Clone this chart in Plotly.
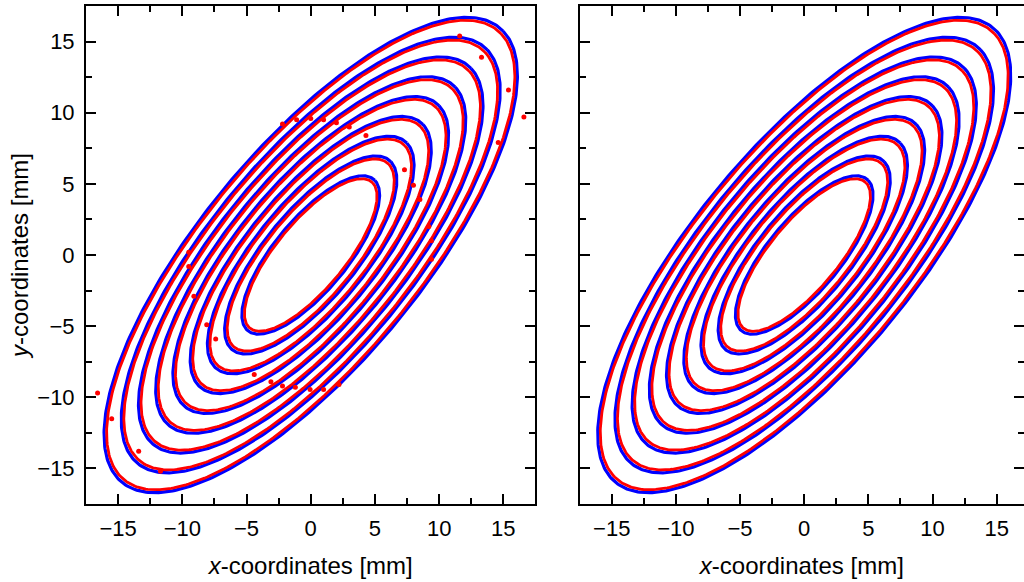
import numpy as np
import plotly.graph_objects as go

# ---- data ----
# nine concentric tilted ellipses: semi-axes in mm, tilt in degrees
blue_semi_major = [7.24, 9.05, 10.86, 12.67, 14.49, 16.30, 18.11, 19.92, 21.73]
blue_semi_minor = [2.70, 3.38, 4.06, 4.73, 5.41, 6.08, 6.76, 7.43, 8.11]
red_semi_major = [7.00, 8.81, 10.62, 12.43, 14.25, 16.06, 17.87, 19.68, 21.49]
red_semi_minor = [2.53, 3.21, 3.89, 4.56, 5.24, 5.91, 6.59, 7.26, 7.94]
tilt_deg = 46.4

# stray measured points (left panel only)
stray_x = [-2.2, -1.1, 0.0, 1.0, 2.0, 3.0, 4.3, 7.3, 8.0, 8.5, 9.2, 9.4, 9.4,
           16.6, 15.4, 13.3, 11.6, 14.6,
           -16.6, -15.5, -13.4, -11.7, -9.5, -9.5, -9.1, -8.1, -7.4,
           -4.4, -3.1, -2.2, -1.2, -0.05, 1.0, 2.2]
stray_y = [9.2, 9.5, 9.6, 9.5, 9.3, 9.0, 8.4, 6.0, 4.9, 3.9, 2.0, 1.0, -0.3,
           9.7, 11.6, 13.9, 15.4, 7.9,
           -9.7, -11.5, -13.8, -15.2, 0.2, -0.8, -2.9, -4.9, -5.9,
           -8.4, -8.9, -9.2, -9.3, -9.45, -9.45, -9.1]

tick_vals = [-15, -10, -5, 0, 5, 10, 15]
tick_text = ["\u221215", "\u221210", "\u22125", "0", "5", "10", "15"]

BLUE = "#0000ff"
RED = "#ff0000"
FONT = "Liberation Sans, Arial, sans-serif"


def ellipse(a, b, deg, n=400):
    t = np.linspace(0, 2 * np.pi, n)
    th = np.deg2rad(deg)
    x = a * np.cos(t) * np.cos(th) - b * np.sin(t) * np.sin(th)
    y = a * np.cos(t) * np.sin(th) + b * np.sin(t) * np.cos(th)
    return x, y


fig = go.Figure()
for xa, ya in (("x", "y"), ("x2", "y2")):
    for a, b in zip(blue_semi_major, blue_semi_minor):
        ex, ey = ellipse(a, b, tilt_deg)
        fig.add_trace(go.Scatter(x=ex, y=ey, mode="lines", xaxis=xa, yaxis=ya,
                                 line=dict(color=BLUE, width=3.2), showlegend=False,
                                 hoverinfo="skip"))
    for a, b in zip(red_semi_major, red_semi_minor):
        ex, ey = ellipse(a, b, tilt_deg)
        fig.add_trace(go.Scatter(x=ex, y=ey, mode="lines", xaxis=xa, yaxis=ya,
                                 line=dict(color=RED, width=2.8), showlegend=False,
                                 hoverinfo="skip"))

fig.add_trace(go.Scatter(x=stray_x, y=stray_y, mode="markers", xaxis="x", yaxis="y",
                         marker=dict(color=RED, size=5, symbol="circle"),
                         showlegend=False, hoverinfo="skip"))

common = dict(
    showline=True, linecolor="black", linewidth=2,
    ticks="inside", ticklen=10, tickwidth=2, tickcolor="black",
    tickvals=tick_vals, ticktext=tick_text,
    minor=dict(dtick=2.5, tick0=0, ticks="inside", ticklen=6, tickwidth=2,
               tickcolor="black"),
    showgrid=False, zeroline=False,
    tickfont=dict(family=FONT, size=22, color="black"),
    automargin=False,
)

xtitle = dict(text="<i>x</i>-coordinates [mm]",
              font=dict(family=FONT, size=24, color="black"), standoff=17)

fig.update_layout(
    width=1024, height=582,
    margin=dict(l=0, r=0, t=6, b=78),
    paper_bgcolor="white", plot_bgcolor="white",
    xaxis=dict(domain=[0.0840, 0.5229], range=[-17.5, 17.5], mirror="ticks",
               anchor="y", ticklabelstandoff=4, title=xtitle, **common),
    yaxis=dict(domain=[0, 1], range=[-17.5, 17.5], mirror="ticks", anchor="x",
               ticklabelstandoff=5,
               title=dict(text="<i>y</i>-coordinates [mm]",
                          font=dict(family=FONT, size=24, color="black"),
                          standoff=2),
               **common),
    xaxis2=dict(domain=[0.5661, 1.0], range=[-17.5, 17.13], mirror="ticks",
                anchor="y2", ticklabelstandoff=4, title=xtitle, **common),
    yaxis2=dict(domain=[0, 1], range=[-17.5, 17.5], mirror="ticks", anchor="x2",
                showticklabels=False, **common),
)

fig.write_html("out.html")
